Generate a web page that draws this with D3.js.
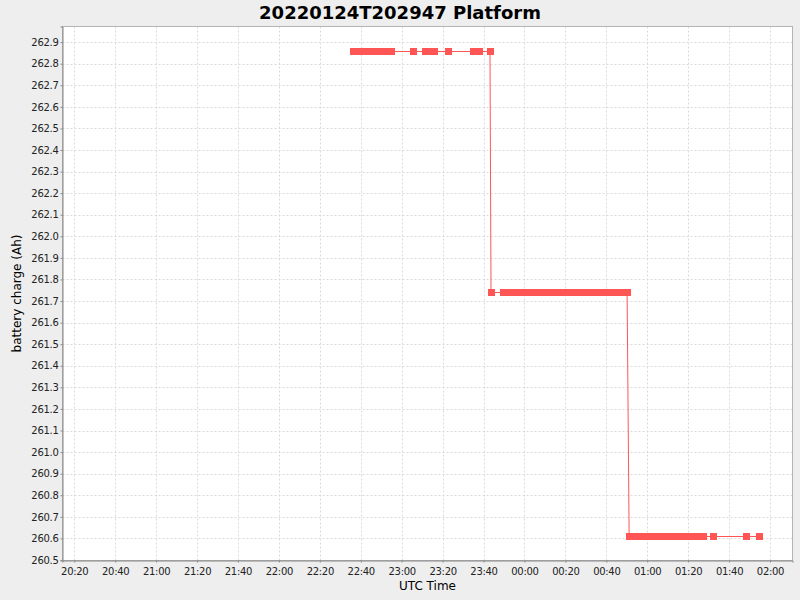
<!DOCTYPE html>
<html>
<head>
<meta charset="utf-8">
<script src="https://cdn.jsdelivr.net/npm/d3@7"></script>
<style>
  html, body { margin: 0; padding: 0; background: #EEEEEE; }
  svg { display: block; font-family: "DejaVu Sans", sans-serif; }
</style>
</head>
<body>
<svg id="chart" width="800" height="600"></svg>
<script>
// ---- data (UTC timestamps, battery charge in Ah) ----
const title = "20220124T202947 Platform";
const xLabel = "UTC Time";
const yLabel = "battery charge (Ah)";

const timesHigh = [
  "2022-01-24T22:36:00","2022-01-24T22:38:00","2022-01-24T22:40:00","2022-01-24T22:42:00",
  "2022-01-24T22:44:00","2022-01-24T22:46:00","2022-01-24T22:48:00","2022-01-24T22:50:00",
  "2022-01-24T22:52:00","2022-01-24T22:54:40","2022-01-24T23:05:30",
  "2022-01-24T23:11:20","2022-01-24T23:13:30","2022-01-24T23:15:50",
  "2022-01-24T23:22:35",
  "2022-01-24T23:34:50","2022-01-24T23:36:20","2022-01-24T23:37:50",
  "2022-01-24T23:43:10"
];
const valuesHigh = timesHigh.map(() => 262.86);

const timesMid = [
  "2022-01-24T23:43:40",
  "2022-01-24T23:49:30","2022-01-24T23:51:30","2022-01-24T23:53:30","2022-01-24T23:55:30",
  "2022-01-24T23:57:30","2022-01-24T23:59:30","2022-01-25T00:01:30","2022-01-25T00:03:30",
  "2022-01-25T00:05:30","2022-01-25T00:07:30","2022-01-25T00:09:30","2022-01-25T00:11:30",
  "2022-01-25T00:13:30","2022-01-25T00:15:30","2022-01-25T00:17:30","2022-01-25T00:19:30",
  "2022-01-25T00:21:30","2022-01-25T00:23:30","2022-01-25T00:25:30","2022-01-25T00:27:30",
  "2022-01-25T00:29:30","2022-01-25T00:31:30","2022-01-25T00:33:30","2022-01-25T00:35:30",
  "2022-01-25T00:37:30","2022-01-25T00:39:30","2022-01-25T00:41:30","2022-01-25T00:43:30",
  "2022-01-25T00:45:30","2022-01-25T00:47:30","2022-01-25T00:49:30","2022-01-25T00:50:10"
];
const valuesMid = timesMid.map(() => 261.74);

const timesLow = [
  "2022-01-25T00:51:10","2022-01-25T00:53:10","2022-01-25T00:55:10","2022-01-25T00:57:10",
  "2022-01-25T00:59:10","2022-01-25T01:01:10","2022-01-25T01:03:10","2022-01-25T01:05:10",
  "2022-01-25T01:07:10","2022-01-25T01:09:10","2022-01-25T01:11:10","2022-01-25T01:13:10",
  "2022-01-25T01:15:10","2022-01-25T01:17:10","2022-01-25T01:19:10","2022-01-25T01:21:10",
  "2022-01-25T01:23:10","2022-01-25T01:25:10","2022-01-25T01:27:25",
  "2022-01-25T01:32:20","2022-01-25T01:48:30","2022-01-25T01:54:35"
];
const valuesLow = timesLow.map(() => 260.61);

const xDomain = ["2022-01-24T20:14:15", "2022-01-25T02:11:00"];
const yDomain = [260.4975, 262.9725];
const yTicks = d3.range(0, 25).map(i => +(260.5 + i * 0.1).toFixed(1));

// ---- build ----
(function () {
const parse = d3.utcParse("%Y-%m-%dT%H:%M:%S");
const data = []
  .concat(timesHigh.map((t, i) => ({ t: parse(t), v: valuesHigh[i] })))
  .concat(timesMid.map((t, i) => ({ t: parse(t), v: valuesMid[i] })))
  .concat(timesLow.map((t, i) => ({ t: parse(t), v: valuesLow[i] })));

const svg = d3.select("#chart");
const pL = 62.5, pR = 792.5, pT = 26.5, pB = 560.5;

const x = d3.scaleUtc().domain(xDomain.map(parse)).range([pL, pR]);
const y = d3.scaleLinear().domain(yDomain).range([pB, pT]);
const xTicks = x.ticks(d3.utcMinute.every(20));

svg.append("rect").attr("width", 800).attr("height", 600).attr("fill", "#EEEEEE");

// title
svg.append("text").attr("x", 400).attr("y", 18.5).attr("text-anchor", "middle")
  .attr("font-size", 18).attr("font-weight", "bold").attr("fill", "#000").text(title);

// plot background
svg.append("rect").attr("x", pL).attr("y", pT).attr("width", pR - pL).attr("height", pB - pT)
  .attr("fill", "#FFFFFF");

// gridlines
const grid = svg.append("g").attr("stroke", "#DADADA").attr("stroke-width", 1).attr("stroke-dasharray", "2,2");
grid.selectAll(".gx").data(xTicks).join("line")
  .attr("x1", d => Math.round(x(d)) + 0.5).attr("x2", d => Math.round(x(d)) + 0.5)
  .attr("y1", pT).attr("y2", pB);
grid.selectAll(".gy").data(yTicks).join("line")
  .attr("y1", d => Math.round(y(d)) + 0.5).attr("y2", d => Math.round(y(d)) + 0.5)
  .attr("x1", pL).attr("x2", pR);

// outline
svg.append("rect").attr("x", pL).attr("y", pT).attr("width", pR - pL).attr("height", pB - pT)
  .attr("fill", "none").attr("stroke", "#B4B4B4").attr("stroke-width", 1);

// axes
const xAxis = d3.axisBottom(x).tickValues(xTicks).tickFormat(d3.utcFormat("%H:%M")).tickSize(2).tickPadding(3);
const yAxis = d3.axisLeft(y).tickValues(yTicks).tickFormat(d3.format(".1f")).tickSize(2).tickPadding(2);

const gx = svg.append("g").attr("transform", `translate(0,${pB})`).call(xAxis);
const gy = svg.append("g").attr("transform", `translate(${pL},0)`).call(yAxis);
[gx, gy].forEach(g => {
  g.select(".domain").attr("stroke", "#888888");
  g.selectAll(".tick line").attr("stroke", "#888888");
  g.selectAll(".tick text").attr("fill", "#222222").attr("font-size", 10)
    .attr("font-family", "DejaVu Sans, sans-serif").attr("letter-spacing", "-0.3px");
});
gx.selectAll(".tick text").attr("dy", "0.9em");

// axis labels
svg.append("text").attr("x", (pL + pR) / 2).attr("y", 590).attr("text-anchor", "middle")
  .attr("font-size", 12).attr("fill", "#000").text(xLabel);
svg.append("text").attr("transform", `translate(21,${(pT + pB) / 2}) rotate(-90)`)
  .attr("text-anchor", "middle").attr("font-size", 12).attr("fill", "#000").text(yLabel);

// series
const plot = svg.append("g");
plot.append("path").datum(data)
  .attr("fill", "none").attr("stroke", "#FF5555").attr("stroke-width", 1)
  .attr("d", d3.line().x(d => x(d.t)).y(d => Math.round(y(d.v)) + 0.5));
plot.selectAll("rect.pt").data(data).join("rect").attr("class", "pt")
  .attr("shape-rendering", "crispEdges")
  .attr("x", d => Math.round(x(d.t)) - 3).attr("y", d => Math.round(y(d.v)) - 3)
  .attr("width", 7).attr("height", 7).attr("fill", "#FF5555");
})();
</script>
</body>
</html>
